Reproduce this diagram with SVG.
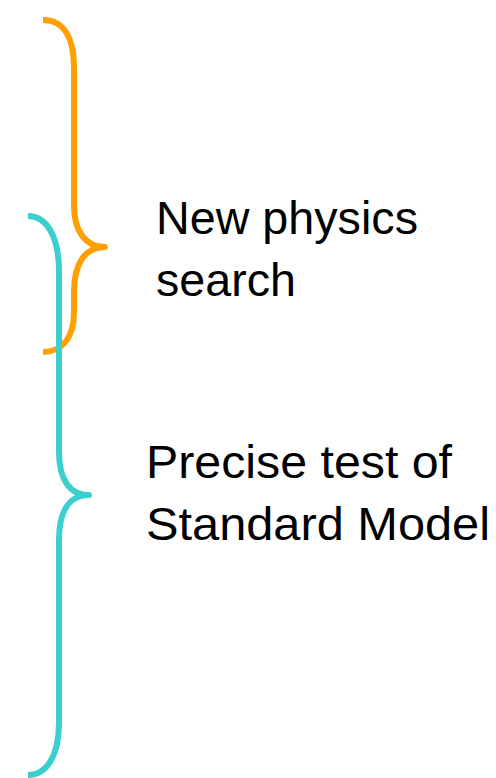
<svg xmlns="http://www.w3.org/2000/svg" width="496" height="778" viewBox="0 0 496 778">
<style>
.brace{fill:none;stroke-width:6;stroke-linecap:butt;stroke-linejoin:round}
.orange{stroke:#FF9F00}
.cyan{stroke:#3CCFCF}
.lbl{font-family:"Liberation Sans",Arial,sans-serif;font-size:46px;fill:#000}
</style>
<rect width="496" height="778" fill="#fff"/>
<g id="connectors">
<path id="brace-new" class="brace orange" d="M43,20 C62,20 74,35 74,68 L74,205 C74,232 86,247 105,247 C86,247 74,262 74,292 L74,312 C74,338 62,352 43,352"/>
<path id="brace-sm" class="brace cyan" d="M28,216 C46,216 59,235 59,272 L59,452 C59,480 70,495 89,495 C70,495 59,510 59,540 L59,722 C59,757 46,775 28,775"/>
</g>
<g id="node-new">
<text class="lbl" x="156" y="234" textLength="262" lengthAdjust="spacingAndGlyphs">New physics</text>
<text class="lbl" x="156" y="296" textLength="140" lengthAdjust="spacingAndGlyphs">search</text>
</g>
<g id="node-sm">
<text class="lbl" x="146" y="478" textLength="306" lengthAdjust="spacingAndGlyphs">Precise test of</text>
<text class="lbl" x="146" y="540" textLength="344" lengthAdjust="spacingAndGlyphs">Standard Model</text>
</g>
</svg>
